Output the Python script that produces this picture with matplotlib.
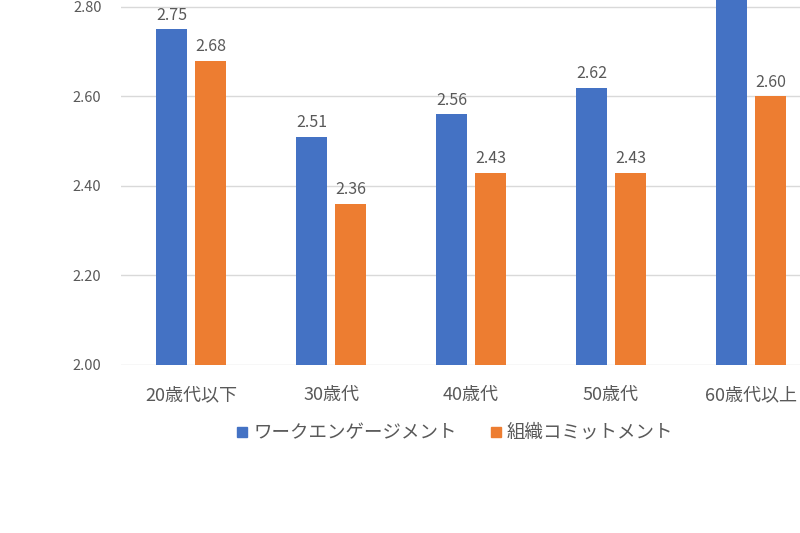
import numpy as np
import matplotlib
matplotlib.use("Agg")
import matplotlib.pyplot as plt
from matplotlib.lines import Line2D

plt.rcParams['font.family'] = ['Noto Sans CJK JP', 'DejaVu Sans']

# data
categories = ['20歳代以下', '30歳代', '40歳代', '50歳代', '60歳代以上']
work_engagement = [2.75, 2.51, 2.56, 2.62, 2.90]   # last bar runs off the top, estimated
org_commitment = [2.68, 2.36, 2.43, 2.43, 2.60]
series_names = ['ワークエンゲージメント', '組織コミットメント']
yticks = [2.00, 2.20, 2.40, 2.60, 2.80]

blue = '#4472C4'
orange = '#ED7D31'
gray = '#595959'

fig = plt.figure(figsize=(8, 5.33), dpi=100)
# the original image is a crop, so the axes run past the right and top edges
ax = fig.add_axes([121/800, 1 - 365/533, 700/800, 365/533])

x = np.arange(len(categories))
w = 0.22
b1 = ax.bar(x - 0.14, work_engagement, w, color=blue, zorder=3)
b2 = ax.bar(x + 0.14, org_commitment, w, color=orange, zorder=3)
ax.bar_label(b1, fmt='%.2f', padding=4, fontsize=11.5, color=gray)
ax.bar_label(b2, fmt='%.2f', padding=4, fontsize=11.5, color=gray)

ax.set_xlim(-0.5, len(categories) - 0.5)
ax.set_ylim(2.0, 2.8156)
ax.set_yticks(yticks)
ax.set_yticklabels(['%.2f' % v for v in yticks], fontsize=10.5, color=gray)
ax.set_xticks(x)
ax.set_xticklabels(categories, fontsize=13, color=gray)
ax.tick_params(axis='y', length=0, pad=14)
ax.tick_params(axis='x', length=0, pad=15)
ax.grid(axis='y', color='#D9D9D9', linewidth=1, zorder=0)
for s in ax.spines.values():
    s.set_visible(False)

handles = [Line2D([], [], marker='s', linestyle='none', color=blue, markersize=7),
           Line2D([], [], marker='s', linestyle='none', color=orange, markersize=7)]
fig.legend(handles, series_names, loc='center', bbox_to_anchor=(453/800, 1 - 433/533),
           ncol=2, frameon=False, fontsize=13.3, labelcolor=gray,
           handletextpad=0.1, columnspacing=1.6, handlelength=1.0)

fig.savefig('out.png', dpi=100)
